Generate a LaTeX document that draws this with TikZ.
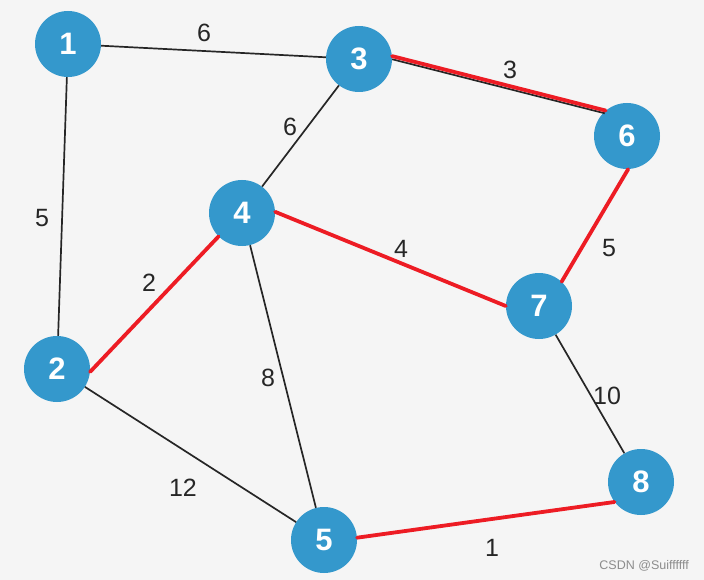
\documentclass[tikz,border=0pt]{standalone}
\usepackage{fontspec}
\setmainfont{Liberation Sans}
\definecolor{nodeblue}{RGB}{52,152,204}
\definecolor{edgered}{RGB}{237,28,36}
\definecolor{bggray}{RGB}{245,245,245}
\definecolor{wmgray}{RGB}{140,140,140}
\begin{document}
\begin{tikzpicture}[x=1pt,y=-1pt,
  vtx/.style={circle,fill=nodeblue,draw=none,minimum size=66pt,inner sep=0pt,
    text=white,font=\fontsize{31}{31}\selectfont\bfseries},
  blk/.style={draw=black!85,line width=1.7pt},
  redl/.style={draw=edgered,line width=3.8pt,line cap=round},
  wlab/.style={font=\fontsize{25}{25}\selectfont,text=black!85,inner sep=0pt}]
\fill[bggray] (0,0) rectangle (704,580);
\useasboundingbox (0,0) rectangle (704,580);
% vertices
\node[vtx] (n1) at (68,44) {1};
\node[vtx] (n3) at (359,59) {3};
\node[vtx] (n6) at (627,136) {6};
\node[vtx] (n4) at (242,213) {4};
\node[vtx] (n7) at (539,306) {7};
\node[vtx] (n2) at (57,369) {2};
\node[vtx] (n8) at (641,482) {8};
\node[vtx] (n5) at (324,540) {5};
% black edges
\draw[blk] (n1) -- (n3);
\draw[blk] (n1) -- (n2);
\draw[blk] (n3) -- (n4);
\draw[blk] (n4) -- (n5);
\draw[blk] (n2) -- (n5);
\draw[blk] (n7) -- (n8);
\draw[blk] ([yshift=-2pt]n3.3) -- ([yshift=-2pt]n6.132);
% red edges
\draw[redl] (n3.5) -- (n6.130);
\draw[redl] (n6.-88) -- (n7.47);
\draw[redl] (n4.2) -- (n7.180);
\draw[redl] (n2.-5) -- (n4.225);
\draw[redl] (n5.4) -- (n8.217);
% labels
\node[wlab] (l13) at (204,33) {6};
\node[wlab] (l36) at (510,70) {3};
\node[wlab] (l34) at (290,127) {6};
\node[wlab] (l12) at (42,218) {5};
\node[wlab] (l24) at (149,283) {2};
\node[wlab] (l47) at (401,249) {4};
\node[wlab] (l67) at (609,248) {5};
\node[wlab] (l45) at (268,378) {8};
\node[wlab] (l78) at (607,396) {10};
\node[wlab] (l25) at (183,488) {12};
\node[wlab] (l58) at (492,548) {1};
\node[anchor=east,inner sep=0pt,text=wmgray,font=\fontsize{12.5}{12.5}\selectfont] (wm) at (689,566) {CSDN @Suiffffff};
\end{tikzpicture}
\end{document}
